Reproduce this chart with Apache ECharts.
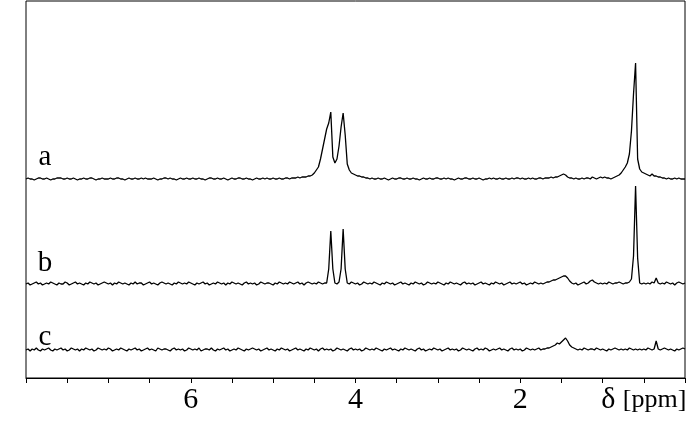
<!DOCTYPE html>
<html>
<head>
<meta charset="utf-8">
<script src="https://cdn.jsdelivr.net/npm/echarts@6/dist/echarts.min.js"></script>
<style>
html,body{margin:0;padding:0;background:#fff;}
#chart{width:687px;height:436px;}
</style>
</head>
<body>
<div id="chart"></div>
<script>
// sampling of the spectra: first point at 8 ppm, one point every 0.025 ppm down to 0 ppm
const ppmStart = 8;
const ppmStep = 0.025;

// trace names
const traceNames = ['a', 'b', 'c'];

// x-axis tick labels and axis title
const xTickLabels = [6, 4, 2];
const xAxisTitle = 'δ [ppm]';
const xAxisTitlePos = 0.5;

// intensities (arbitrary units, above each trace's own baseline), 321 points each
const traceA = [
  0,1,0,0,-1,0,1,1,0,0,
  1,0,-1,0,0,1,1,1,0,0,
  1,0,0,1,0,-1,0,0,1,0,
  0,1,1,0,-1,0,0,1,0,0,
  0,1,0,0,1,1,0,0,-1,0,
  1,0,0,1,0,0,1,0,1,0,
  0,0,1,0,-1,0,0,1,1,0,
  1,0,0,-1,0,1,0,0,1,0,
  0,1,0,0,1,0,0,-1,0,1,
  1,0,0,1,0,0,1,0,-1,0,
  1,0,0,1,1,0,0,1,0,0,
  -1,0,1,0,0,1,0,1,0,0,
  1,0,0,1,0,0,1,1,0,1,
  1,1,2,1,2,2,2,3,3,4,
  6,9,12,20,30,40,50,56,67,22,
  16,20,33,52,66,44,15,9,6,5,
  4,3,3,2,2,1,1,0,1,0,
  0,1,0,0,1,0,-1,0,1,0,
  0,1,1,0,0,1,0,0,1,0,
  0,-1,0,1,0,0,1,0,0,1,
  1,0,0,1,0,1,0,0,-1,0,
  1,0,0,1,1,0,0,1,0,0,
  1,0,-1,0,0,1,0,1,0,0,
  1,0,0,1,0,0,1,0,1,1,
  0,1,0,0,1,0,1,0,0,1,
  1,0,1,1,1,2,1,2,2,3,
  4,5,4,2,1,1,0,1,0,0,
  1,0,1,1,0,2,1,0,1,2,
  1,2,1,1,0,1,2,3,4,6,
  9,12,16,25,48,85,116,20,10,7,
  6,5,4,3,5,3,3,2,2,1,
  1,0,1,0,0,1,0,1,0,0,
  0
];
const traceB = [
  0,1,-1,0,1,2,0,1,-1,0,
  1,0,2,1,0,-1,1,0,0,2,
  1,-1,0,1,2,0,1,0,-1,1,
  0,2,1,0,1,-1,0,1,2,1,
  0,1,-1,1,0,2,1,0,1,0,
  -1,1,0,2,0,1,1,-1,0,1,
  2,0,1,0,-1,1,2,1,0,1,
  0,-1,1,0,2,1,0,1,0,2,
  1,0,-1,1,0,1,2,0,1,-1,
  0,1,0,2,1,0,1,-1,1,0,
  2,1,0,1,0,-1,1,2,0,1,
  0,1,-1,0,2,1,0,1,1,0,
  -1,1,0,2,1,0,1,0,2,1,
  0,1,2,0,1,-1,1,2,1,0,
  1,0,2,1,0,1,1,15,53,15,
  1,0,2,15,55,15,1,0,2,1,
  0,1,-1,0,2,1,0,1,0,2,
  1,0,-1,1,0,2,1,0,1,-1,
  0,1,2,0,1,0,-1,1,0,2,
  1,0,1,-1,0,2,1,0,1,0,
  2,1,0,-1,1,0,2,1,0,1,
  0,-1,1,2,0,1,0,1,-1,0,
  1,2,0,1,0,-1,1,0,2,1,
  0,1,-1,0,1,2,0,1,0,1,
  2,0,1,-1,0,1,0,2,1,0,
  1,0,1,2,2,3,4,4,5,6,
  7,8,8,6,3,1,0,1,-1,0,
  1,2,0,1,3,4,2,1,0,1,
  0,1,0,2,1,0,1,1,2,1,
  0,1,1,2,5,28,98,26,1,0,
  1,0,1,0,2,1,6,1,0,1,
  0,2,1,0,1,-1,1,2,1,0,
  1
];
const traceC = [
  0,1,-1,1,0,2,0,-1,1,0,
  1,2,0,-1,1,0,1,2,0,1,
  -1,0,2,1,0,1,-1,1,0,2,
  1,0,1,-1,0,2,1,0,1,0,
  2,1,-1,0,1,0,2,1,0,-1,
  1,0,1,2,0,1,-1,0,1,2,
  0,1,0,-1,2,1,0,1,1,0,
  -1,1,2,0,1,0,1,-1,0,2,
  1,0,1,0,2,-1,0,1,1,0,
  2,0,-1,1,0,1,2,0,1,-1,
  0,1,0,2,1,0,-1,1,0,1,
  2,1,0,1,-1,0,1,2,0,1,
  0,-1,1,0,2,1,0,1,-1,0,
  1,2,0,1,0,-1,1,0,2,1,
  0,1,-1,1,2,0,1,0,1,-1,
  0,2,1,0,1,0,-1,1,2,0,
  1,0,1,-1,0,2,1,0,1,0,
  2,1,0,-1,1,0,1,2,0,1,
  0,-1,1,0,2,1,0,1,0,-1,
  1,2,0,1,-1,0,1,0,2,1,
  0,1,-1,0,1,2,0,1,0,1,
  -1,0,2,1,0,1,0,-1,1,2,
  0,1,0,2,1,-1,0,1,0,1,
  2,0,1,0,-1,1,2,0,1,0,
  1,-1,0,2,1,0,1,0,1,2,
  0,1,1,2,2,3,4,5,7,6,
  8,10,12,9,5,3,2,1,0,1,
  0,2,1,0,1,1,0,2,1,0,
  1,0,-1,1,0,1,2,1,0,1,
  0,1,0,2,1,0,1,0,1,0,
  1,0,2,1,0,1,9,1,0,1,
  2,1,0,1,0,-1,1,0,1,2,
  1
];

// ---- layout (not data) ----
const traces = [traceA, traceB, traceC];
const baselineOffsets = [199, 94, 28];   // vertical stacking of the traces
const labelOffsets = [221, 115, 41];     // where the a/b/c letters sit
const labelPpm = 7.77;
const serif = 'Liberation Serif';

const chart = echarts.init(document.getElementById('chart'), null, {renderer: 'canvas'});

const series = traces.map((tr, k) => ({
  type: 'line',
  name: traceNames[k],
  data: tr.map((v, i) => [ppmStart - i * ppmStep, v + baselineOffsets[k]]),
  showSymbol: false,
  symbol: 'none',
  smooth: false,
  lineStyle: {color: '#000', width: 1.3},
  itemStyle: {color: '#000'},
  emphasis: {disabled: true},
  silent: true,
  markPoint: {
    symbol: 'circle',
    symbolSize: 0,
    silent: true,
    label: {
      show: true,
      position: 'inside',
      formatter: traceNames[k],
      fontFamily: serif,
      fontSize: 29,
      color: '#000'
    },
    data: [{coord: [labelPpm, labelOffsets[k]]}]
  }
}));

chart.setOption({
  animation: false,
  backgroundColor: '#fff',
  textStyle: {fontFamily: serif},
  grid: {
    left: 26, right: 2, top: 1, bottom: 58,
    outerBoundsMode: 'none',
    containLabel: false,
    show: true, borderColor: '#000', borderWidth: 1, backgroundColor: 'transparent'
  },
  xAxis: {
    type: 'value',
    min: 0, max: 8, interval: 0.5,
    inverse: true,
    axisLine: {show: true, onZero: false, lineStyle: {color: '#000', width: 1}},
    axisTick: {show: true, length: 5, lineStyle: {color: '#000', width: 1}},
    splitLine: {show: false},
    axisLabel: {
      show: true,
      margin: 7,
      color: '#000',
      fontFamily: serif,
      fontSize: 30,
      showMinLabel: true,
      showMaxLabel: true,
      hideOverlap: false,
      formatter: function (v) {
        if (Math.abs(v - xAxisTitlePos) < 1e-6) return '{d|δ} {u|[ppm]}';
        for (const t of xTickLabels) if (Math.abs(v - t) < 1e-6) return String(t);
        return '';
      },
      rich: {
        d: {fontFamily: serif, fontSize: 30, color: '#000'},
        u: {fontFamily: serif, fontSize: 26, color: '#000'}
      }
    }
  },
  yAxis: {
    type: 'value', min: 0, max: 377, show: false
  },
  series: series
});
</script>
</body>
</html>
